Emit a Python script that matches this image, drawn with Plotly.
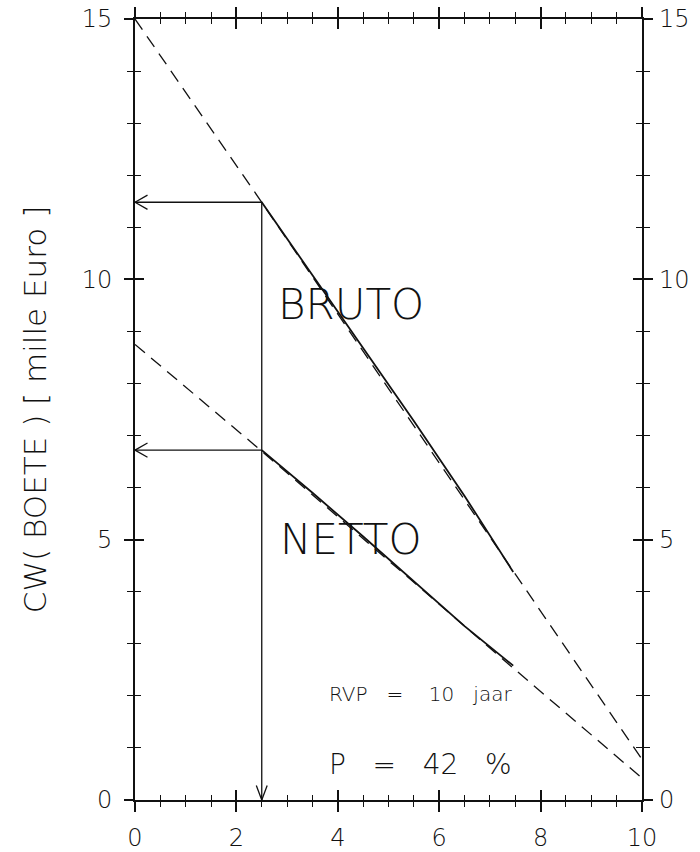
import plotly.graph_objects as go

# ---- data ----
rvp_years = [0, 2.5, 5, 7.5, 10]
bruto_dashed = [15.0, 11.48, 7.9, 4.35, 0.78]
netto_dashed = [8.75, 6.70, 4.60, 2.50, 0.42]

curve_years = [2.5, 3.5, 4.5, 5.5, 6.5, 7.46]
bruto_solid = [11.48, 10.08, 8.70, 7.28, 5.84, 4.38]
netto_solid = [6.72, 5.90, 5.06, 4.20, 3.34, 2.58]

read_year = 2.5
bruto_read = 11.48
netto_read = 6.72

x_ticks = [0, 2, 4, 6, 8, 10]
y_ticks = [0, 5, 10, 15]

FONT = "DejaVu Sans"
BLACK = "#111111"
NB = "\u00a0"

fig = go.Figure()

# dashed reference curves
for ys in (bruto_dashed, netto_dashed):
    fig.add_trace(go.Scatter(x=rvp_years, y=ys, mode="lines",
                             line=dict(color=BLACK, width=1.3, dash="13px,8px"),
                             hoverinfo="skip", showlegend=False))
# solid curves
for ys in (bruto_solid, netto_solid):
    fig.add_trace(go.Scatter(x=curve_years, y=ys, mode="lines",
                             line=dict(color=BLACK, width=1.8),
                             hoverinfo="skip", showlegend=False))
# read-off lines
fig.add_trace(go.Scatter(x=[0, read_year, read_year], y=[bruto_read, bruto_read, 0],
                         mode="lines", line=dict(color=BLACK, width=1.3),
                         hoverinfo="skip", showlegend=False))
fig.add_trace(go.Scatter(x=[0, read_year], y=[netto_read, netto_read],
                         mode="lines", line=dict(color=BLACK, width=1.3),
                         hoverinfo="skip", showlegend=False))

# helper traces to activate overlay axes
fig.add_trace(go.Scatter(x=[None], y=[None], xaxis="x2", yaxis="y3",
                         showlegend=False, hoverinfo="skip"))
fig.add_trace(go.Scatter(x=[None], y=[None], xaxis="x", yaxis="y2",
                         showlegend=False, hoverinfo="skip"))

tickfont = dict(family=FONT, size=24, color=BLACK, weight=200)

common_x = dict(range=[0, 10], showgrid=False, zeroline=False, automargin=False)
common_y = dict(range=[0, 15], showgrid=False, zeroline=False, automargin=False)

fig.update_layout(
    width=700, height=852,
    margin=dict(l=135, r=58, t=19, b=52),
    paper_bgcolor="white", plot_bgcolor="white",
    font=dict(family=FONT, color=BLACK, weight=200),
    xaxis=dict(**common_x, tickvals=x_ticks, ticktext=[str(v) for v in x_ticks],
               ticks="outside", ticklen=10, tickwidth=1.5, tickcolor=BLACK,
               minor=dict(ticks="outside", dtick=0.5, ticklen=5, tickwidth=1.3, tickcolor=BLACK),
               showline=True, linecolor=BLACK, linewidth=1.8, mirror="ticks",
               tickfont=tickfont, ticklabelstandoff=5),
    xaxis2=dict(**common_x, overlaying="x", side="bottom", showticklabels=False,
                tickvals=x_ticks, ticks="inside", ticklen=10, tickwidth=1.5, tickcolor=BLACK,
                minor=dict(ticks="inside", dtick=0.5, ticklen=5, tickwidth=1.3, tickcolor=BLACK),
                showline=False, mirror="ticks"),
    yaxis=dict(**common_y, tickvals=y_ticks, ticktext=[str(v) for v in y_ticks],
               ticks="outside", ticklen=9, tickwidth=1.5, tickcolor=BLACK,
               minor=dict(ticks="outside", dtick=1, ticklen=6, tickwidth=1.3, tickcolor=BLACK),
               showline=True, linecolor=BLACK, linewidth=1.8, mirror="ticks",
               tickfont=tickfont, ticklabelstandoff=7,
               title=dict(text="CW( BOETE ) [ mille Euro ]",
                          font=dict(family=FONT, size=31, color=BLACK, weight=200),
                          standoff=26)),
    yaxis2=dict(**common_y, overlaying="y", side="right", tickvals=y_ticks,
                ticktext=[str(v) for v in y_ticks], ticks="", showline=False,
                tickfont=tickfont, ticklabelstandoff=16),
    yaxis3=dict(**common_y, overlaying="y", side="left", showticklabels=False,
                tickvals=y_ticks, ticks="inside", ticklen=9, tickwidth=1.5, tickcolor=BLACK,
                minor=dict(ticks="inside", dtick=1, ticklen=6, tickwidth=1.3, tickcolor=BLACK),
                showline=False, mirror="ticks"),
)

# open V arrowheads at the read-off line ends
def vhead(x, y, offsets):
    for ax, ay in offsets:
        fig.add_annotation(x=x, y=y, xref="x", yref="y", ax=ax, ay=ay, text="",
                           showarrow=True, arrowhead=0, arrowwidth=1.3, arrowcolor=BLACK)

vhead(0, bruto_read, [(14, -8), (14, 8)])
vhead(0, netto_read, [(14, -8), (14, 8)])
vhead(read_year, 0, [(-6, -16), (6, -16)])

labels = [
    ("BRUTO", 4.26, 9.52, 42),
    ("NETTO", 4.26, 5.01, 42),
    ("RVP" + NB * 3 + "=" + NB * 4 + "10" + NB * 3 + "jaar", 5.64, 2.04, 20),
    ("P" + NB * 3 + "=" + NB * 3 + "42" + NB * 3 + "%", 5.64, 0.69, 28),
]
for txt, x, y, size in labels:
    fig.add_annotation(x=x, y=y, xref="x", yref="y", text=txt, showarrow=False,
                       font=dict(family=FONT, size=size, color=BLACK, weight=200))

fig.write_html("out.html", config={"displayModeBar": False},
               post_script="document.body.style.margin='0';document.body.style.overflow='hidden';")
